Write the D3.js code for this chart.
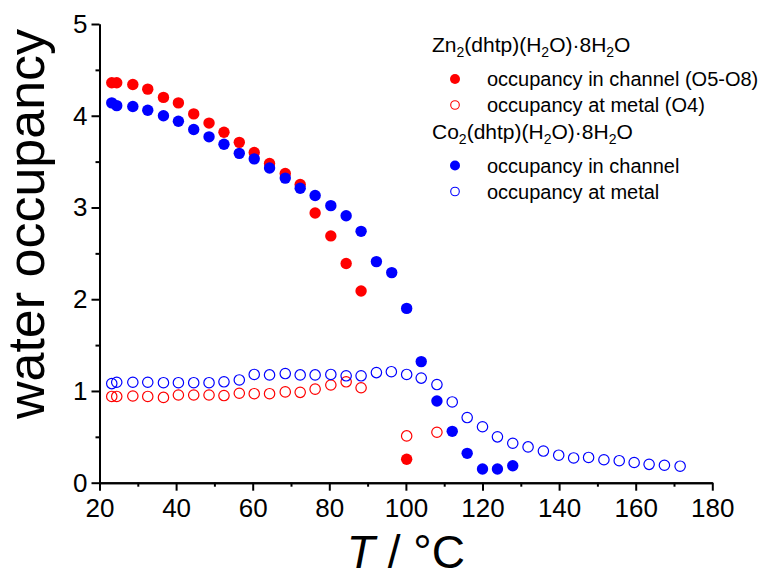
<!DOCTYPE html>
<html>
<head>
<meta charset="utf-8">
<script src="https://cdn.jsdelivr.net/npm/d3@7"></script>
<style>
  html, body { margin: 0; padding: 0; background: #fff; }
  svg { display: block; font-family: "Liberation Sans", Arial, sans-serif; }
</style>
</head>
<body>
<svg id="chart" width="782" height="576"></svg>
<script>
// Temperatures (°C) and water occupancies for each series
const znChannelT = [23.2, 24.5, 28.7, 32.6, 36.7, 40.6, 44.6, 48.6, 52.5, 56.5, 60.4, 64.4, 68.5, 72.4, 76.3, 80.4, 84.4, 88.3, 100.2];
const znChannel  = [4.36, 4.36, 4.34, 4.29, 4.20, 4.14, 4.02, 3.92, 3.82, 3.71, 3.60, 3.48, 3.37, 3.25, 2.94, 2.69, 2.39, 2.09, 0.255];

const znMetalT = [23.2, 24.5, 28.7, 32.6, 36.7, 40.6, 44.6, 48.6, 52.5, 56.5, 60.4, 64.4, 68.5, 72.4, 76.3, 80.4, 84.4, 88.3, 100.2, 108.1];
const znMetal  = [0.94, 0.94, 0.945, 0.94, 0.93, 0.956, 0.956, 0.956, 0.95, 0.975, 0.97, 0.97, 0.99, 0.985, 1.02, 1.065, 1.10, 1.035, 0.51, 0.55];

const coChannelT = [23.2, 24.5, 28.7, 32.6, 36.7, 40.6, 44.6, 48.6, 52.5, 56.5, 60.4, 64.4, 68.5, 72.4, 76.3, 80.4, 84.4, 88.3, 92.3, 96.3, 100.2, 104.0, 108.1, 112.1, 116.0, 120.0, 123.9, 127.9];
const coChannel  = [4.14, 4.11, 4.10, 4.06, 4.00, 3.94, 3.85, 3.77, 3.69, 3.59, 3.53, 3.43, 3.32, 3.21, 3.13, 3.02, 2.91, 2.74, 2.41, 2.29, 1.90, 1.32, 0.89, 0.56, 0.32, 0.15, 0.15, 0.185];

const coMetalT = [23.2, 24.5, 28.7, 32.6, 36.7, 40.6, 44.6, 48.6, 52.5, 56.5, 60.4, 64.4, 68.5, 72.4, 76.3, 80.4, 84.4, 88.3, 92.3, 96.2, 100.2, 104.0, 108.1, 112.1, 116.0, 120.0, 123.9, 127.9, 131.9, 135.9, 139.9, 143.8, 147.7, 151.7, 155.7, 159.6, 163.5, 167.5, 171.6];
const coMetal  = [1.08, 1.095, 1.095, 1.095, 1.09, 1.09, 1.09, 1.09, 1.10, 1.12, 1.18, 1.175, 1.19, 1.175, 1.175, 1.18, 1.165, 1.165, 1.20, 1.21, 1.18, 1.14, 1.07, 0.88, 0.71, 0.61, 0.50, 0.43, 0.39, 0.345, 0.30, 0.27, 0.275, 0.25, 0.24, 0.22, 0.20, 0.19, 0.18];

const xTicks = [20, 40, 60, 80, 100, 120, 140, 160, 180];
const xMinorTicks = [30, 50, 70, 90, 110, 130, 150, 170];
const yTicks = [0, 1, 2, 3, 4, 5];
const yMinorTicks = [0.5, 1.5, 2.5, 3.5, 4.5];

const RED = "#ff0000", BLUE = "#0000ff";
const FONT = "'Liberation Sans', Arial, sans-serif";

const svg = d3.select("#chart");
const x = d3.scaleLinear().domain([20, 180]).range([99.5, 712.3]);
const y = d3.scaleLinear().domain([0, 5]).range([482.7, 24]);

// Axes: major and minor ticks, pointing outward
function styleAxis(g) {
  g.selectAll("path.domain").attr("stroke", "#000").attr("stroke-width", 2);
  g.selectAll(".tick line").attr("stroke", "#000").attr("stroke-width", 2);
}
const xAxisG = svg.append("g").attr("transform", `translate(0,${y(0)})`);
xAxisG.append("g").call(d3.axisBottom(x).tickValues(xMinorTicks).tickSize(4).tickFormat("").tickSizeOuter(0))
  .call(styleAxis);
xAxisG.append("g").call(d3.axisBottom(x).tickValues(xTicks).tickSize(8).tickPadding(8).tickSizeOuter(0).tickFormat(d3.format("d")))
  .call(styleAxis)
  .selectAll("text").attr("font-size", 26).attr("fill", "#000").attr("font-family", FONT);

const yAxisG = svg.append("g").attr("transform", `translate(${x(20)},0)`);
yAxisG.append("g").call(d3.axisLeft(y).tickValues(yMinorTicks).tickSize(4).tickFormat("").tickSizeOuter(0))
  .call(styleAxis);
yAxisG.append("g").call(d3.axisLeft(y).tickValues(yTicks).tickSize(8).tickPadding(4).tickSizeOuter(0).tickFormat(d3.format("d")))
  .call(styleAxis)
  .selectAll("text").attr("font-size", 26).attr("fill", "#000").attr("font-family", FONT);

// Axis titles
svg.append("text")
  .attr("transform", "translate(44,224) rotate(-90)")
  .attr("text-anchor", "middle")
  .attr("font-size", 52)
  .text("water occupancy");

const xt = svg.append("text")
  .attr("x", (x(20) + x(180)) / 2)
  .attr("y", 568)
  .attr("text-anchor", "middle")
  .attr("font-size", 46);
xt.append("tspan").attr("font-style", "italic").text("T");
xt.append("tspan").text(" / °C");

// Data markers
function points(ts, vs, color, filled) {
  const data = ts.map((t, i) => ({ t, v: vs[i] }));
  svg.append("g").selectAll("circle").data(data).join("circle")
    .attr("cx", d => x(d.t))
    .attr("cy", d => y(d.v))
    .attr("r", filled ? 5.7 : 5.2)
    .attr("fill", filled ? color : "none")
    .attr("stroke", filled ? "none" : color)
    .attr("stroke-width", 1.2);
}
points(znMetalT, znMetal, RED, false);
points(coMetalT, coMetal, BLUE, false);
points(znChannelT, znChannel, RED, true);
points(coChannelT, coChannel, BLUE, true);

// Legend
const legend = svg.append("g");
function formula(xPos, yPos, parts) {
  const t = legend.append("text").attr("x", xPos).attr("y", yPos).attr("font-size", 21);
  let low = false;
  parts.forEach(([s, sub]) => {
    const span = t.append("tspan").text(s);
    if (sub) {
      span.attr("font-size", 14).attr("dy", low ? 0 : 5);
      low = true;
    } else {
      span.attr("dy", low ? -5 : 0);
      low = false;
    }
  });
}
formula(432, 52, [["Zn"], ["2", true], ["(dhtp)(H"], ["2", true], ["O)·8H"], ["2", true], ["O"]]);
formula(432, 138.5, [["Co"], ["2", true], ["(dhtp)(H"], ["2", true], ["O)·8H"], ["2", true], ["O"]]);

const legendRows = [
  { cy: 79, label: "occupancy in channel (O5-O8)", color: RED, filled: true },
  { cy: 105, label: "occupancy at metal (O4)", color: RED, filled: false },
  { cy: 165.5, label: "occupancy in channel", color: BLUE, filled: true },
  { cy: 191.5, label: "occupancy at metal", color: BLUE, filled: false }
];
legendRows.forEach(r => {
  legend.append("circle")
    .attr("cx", 455).attr("cy", r.cy)
    .attr("r", r.filled ? 5 : 4.3)
    .attr("fill", r.filled ? r.color : "none")
    .attr("stroke", r.filled ? "none" : r.color)
    .attr("stroke-width", 1.1);
  legend.append("text").attr("x", 487).attr("y", r.cy + 7.3)
    .attr("font-size", 20).text(r.label);
});
</script>
</body>
</html>
